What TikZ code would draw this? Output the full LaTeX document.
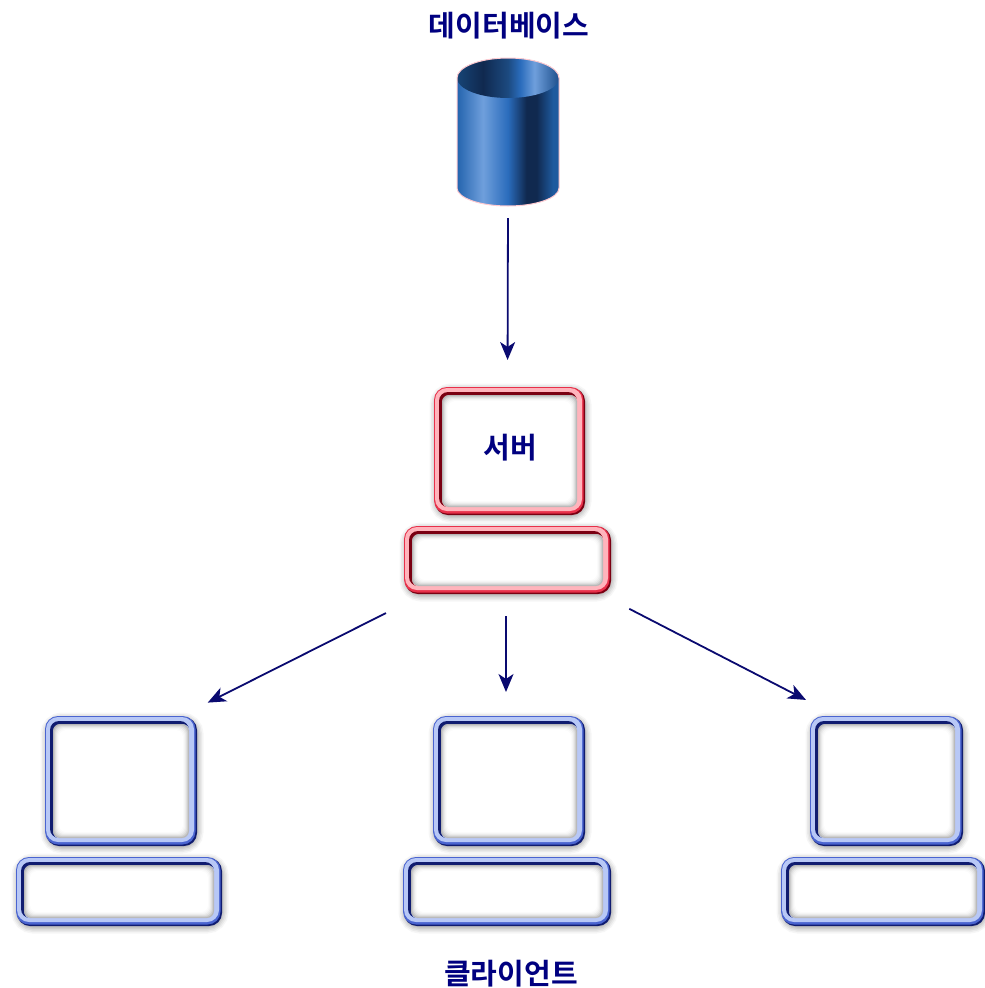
\documentclass[tikz,border=0pt]{standalone}
\usepackage{fontspec}
\newfontfamily\krfont{Noto Sans CJK KR}[BoldFont={* Bold}]
\usetikzlibrary{arrows.meta}
\definecolor{navytxt}{HTML}{000080}
\definecolor{arrowc}{HTML}{0A0A70}
\definecolor{redlight}{HTML}{FFB4BC}
\definecolor{reddark}{HTML}{7A0012}
\definecolor{redmid}{HTML}{E8304A}
\definecolor{bluelight}{HTML}{B8C8F6}
\definecolor{bluedark}{HTML}{101C70}
\definecolor{bluemid}{HTML}{4A64D0}
\definecolor{dbA}{HTML}{2464AE}
\definecolor{dbB}{HTML}{6F9FDC}
\definecolor{dbC}{HTML}{2A6CBC}
\definecolor{dbD}{HTML}{10294F}
\definecolor{dbE}{HTML}{1E5A9E}
\definecolor{dbF}{HTML}{174476}
\definecolor{dbG}{HTML}{1C4A80}
\definecolor{dbH}{HTML}{1D4F8C}
\pgfdeclarehorizontalshading{dbbody}{100bp}{
 color(0bp)=(dbA); color(25bp)=(dbA); color(37.7bp)=(dbB); color(50bp)=(dbC);
 color(59bp)=(dbD); color(64bp)=(dbD); color(72bp)=(dbE); color(100bp)=(dbE)}
\pgfdeclarehorizontalshading{dbtop}{100bp}{
 color(0bp)=(dbF); color(25bp)=(dbF); color(37.7bp)=(dbD); color(50bp)=(dbG);
 color(56bp)=(dbC); color(63bp)=(dbB); color(75bp)=(dbH); color(100bp)=(dbH)}
\tikzset{
 anchorbox/.style={inner sep=0pt,outer sep=0pt},
 flow/.style={draw=arrowc,line width=1.8pt,-{Stealth[length=18pt,width=15pt,inset=5pt]}},
 label text/.style={text=navytxt,font=\krfont\bfseries\fontsize{29}{29}\selectfont,inner sep=0pt}
}
% \bevelbox{name}{x0}{y0}{x1}{y1}{light}{mid}{dark}
\newcommand{\bevelbox}[8]{%
 \pgfmathsetmacro{\xa}{#2}\pgfmathsetmacro{\ya}{#3}\pgfmathsetmacro{\xb}{#4}\pgfmathsetmacro{\yb}{#5}%
 \pgfmathsetmacro{\bw}{#4-#2}\pgfmathsetmacro{\bh}{#5-#3}%
 \foreach \g/\o in {17/.06,14/.08,11/.10,8/.12,5/.14}{%
  \draw[gray!80!black,opacity=\o,line width=\g pt,rounded corners=13pt,shift={(1,2)}] (\xa+3,\ya+3) rectangle (\xb-3,\yb-3);
 }%
 \fill[#8,rounded corners=13pt] (\xa+1,\ya+1) rectangle (\xb,\yb);
 \fill[#7,rounded corners=13pt] (\xa,\ya) rectangle (\xb-1.5,\yb-1.5);
 \fill[#6,rounded corners=12pt] (\xa+1,\ya+1) rectangle (\xb-3,\yb-4);
 \fill[#8,rounded corners=9pt] (\xa+5,\ya+5) rectangle (\xb-8,\yb-8);
 \fill[#6,rounded corners=8pt] (\xa+8,\ya+8) rectangle (\xb-7,\yb-7);
 \foreach \i/\c in {0/black!28,1/black!20,2/black!13,3/black!8,4/black!4,5/black!1.5,6/white}{%
  \fill[\c,rounded corners=7pt] (\xa+8+\i,\ya+8+\i) rectangle (\xb-8-\i,\yb-8-\i);
 }%
 \node[anchorbox,minimum width=\bw pt,minimum height=\bh pt] (#1) at ({(#2+#4)/2},{(#3+#5)/2}) {};
}
\begin{document}
\begin{tikzpicture}[x=1pt,y=-1pt]
\useasboundingbox (0,0) rectangle (985,988);
\fill[white] (0,0) rectangle (985,988);

% database
\shade[shading=dbbody]
  (457,78) -- (457,188) arc[x radius=51,y radius=18,start angle=180,end angle=0]
  -- (559,78) arc[x radius=51,y radius=20,start angle=0,end angle=-180] -- cycle;
\shade[shading=dbtop] (508,78) ellipse[x radius=51,y radius=20];
\draw[redlight!70!white,line width=1pt]
  (457,78) -- (457,188) arc[x radius=51,y radius=18,start angle=180,end angle=0]
  -- (559,78) arc[x radius=51,y radius=20,start angle=0,end angle=-180] -- cycle;
\node[anchorbox,minimum width=102pt,minimum height=148pt] (db) at (508,132) {};
\node[label text] (dbtitle) at (509,26) {데이터베이스};

% server
\bevelbox{srvmon}{434}{387}{585}{515}{redlight}{redmid}{reddark}
\bevelbox{srvbase}{404}{526}{611}{594}{redlight}{redmid}{reddark}
\node[label text] (srvlabel) at (510,448) {서버};

% clients
\bevelbox{cAmon}{45}{716}{197}{846}{bluelight}{bluemid}{bluedark}
\bevelbox{cAbase}{16}{857}{222}{926}{bluelight}{bluemid}{bluedark}
\bevelbox{cBmon}{433}{716}{585}{846}{bluelight}{bluemid}{bluedark}
\bevelbox{cBbase}{403}{857}{611}{926}{bluelight}{bluemid}{bluedark}
\bevelbox{cCmon}{810}{716}{963}{846}{bluelight}{bluemid}{bluedark}
\bevelbox{cCbase}{781}{857}{985}{926}{bluelight}{bluemid}{bluedark}
\node[label text] (clientlabel) at (511,974) {클라이언트};

% connectors
\draw[flow,shorten <=12pt,shorten >=27pt] (db.south) -- ([xshift=-2pt]srvmon.north);
\draw[flow,shorten <=136pt,shorten >=12pt] ([yshift=8pt]srvbase.center) -- ([yshift=8pt]cAmon.north east);
\draw[flow,shorten <=22pt,shorten >=24pt] ([xshift=-1.5pt]srvbase.south) -- ([xshift=-3pt]cBmon.north);
\draw[flow,shorten <=137pt,shorten >=4.5pt] ([yshift=14pt]srvbase.center) -- ([yshift=14pt]cCmon.north west);
\end{tikzpicture}
\end{document}
